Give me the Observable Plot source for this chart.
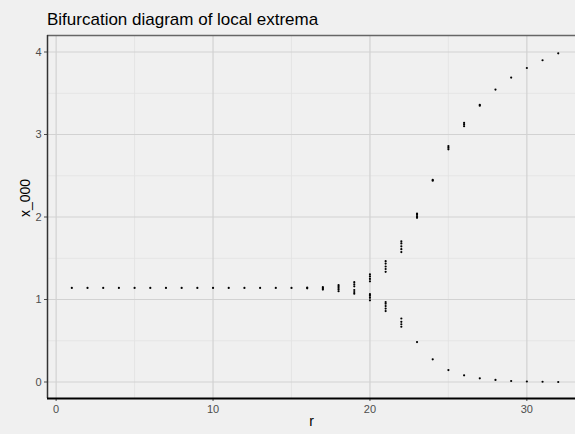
<!DOCTYPE html>
<html><head><meta charset="utf-8">
<script src="https://cdn.jsdelivr.net/npm/d3@7"></script>
<script src="https://cdn.jsdelivr.net/npm/@observablehq/plot@0.6"></script>
<style>
html,body{margin:0;padding:0;background:#f0f0f0;}
#title{height:30px;box-sizing:border-box;padding:11px 0 0 47px;font-family:"Liberation Sans",Arial,sans-serif;font-size:17px;line-height:17px;color:#000;white-space:nowrap;}
#chart svg{display:block;}
</style></head><body>
<div id="title">Bifurcation diagram of local extrema</div>
<div id="chart"></div>
<script>
// r value of each local extremum
const rValues = [
  1,2,3,4,5,6,7,8,9,10,11,12,13,14,15,
  16,16,
  17,17,17,
  18,18,18,18,18,
  19,19,19,19,19,19,
  20,20,20,20,20,20,20,20,
  21,21,21,21,21,21,21,21,21,21,
  22,22,22,22,22,22,22,22,22,
  23,23,23,23,23,
  24,24,24,
  25,25,25,25,
  26,26,26,26,
  27,27,27,
  28,28,
  29,29,
  30,30,
  31,31,
  32,32
];
// x_000 value of each local extremum
const x000Values = [
  1.14,1.14,1.14,1.14,1.14,1.14,1.14,1.14,1.14,1.14,1.14,1.14,1.14,1.14,1.14,
  1.135,1.145,
  1.12,1.135,1.15,
  1.10,1.12,1.14,1.16,1.175,
  1.07,1.09,1.115,1.16,1.185,1.21,
  0.99,1.02,1.045,1.065,1.22,1.25,1.28,1.305,
  0.86,0.89,0.92,0.95,0.97,1.335,1.37,1.40,1.435,1.465,
  0.67,0.70,0.73,0.77,1.575,1.61,1.645,1.68,1.705,
  0.484,1.99,2.01,2.03,2.04,
  0.275,2.44,2.45,
  0.145,2.82,2.84,2.86,
  0.081,3.10,3.12,3.14,
  0.045,3.35,3.36,
  0.025,3.545,
  0.012,3.69,
  0.006,3.806,
  0.003,3.90,
  0.0,3.984
];
const title = "Bifurcation diagram of local extrema";
const xLabel = "r";
const yLabel = "x_000";
const xMajor = [0,10,20,30];
const xMinor = [5,15,25];
const yMajor = [0,1,2,3,4];
const yMinor = [0.5,1.5,2.5,3.5];
const xDomain = [-0.55,33.1];
const yDomain = [-0.2,4.2];

const points = rValues.map((r,i) => ({r, v: x000Values[i]}));

const chart = Plot.plot({
  width: 575,
  height: 404,
  marginLeft: 47,
  marginRight: 0,
  marginTop: 5,
  marginBottom: 36,
  style: {background: "transparent", fontFamily: "'Liberation Sans', Arial, sans-serif", fontSize: "11px", color: "#4d4d4d", overflow: "visible"},
  x: {domain: xDomain, ticks: xMajor, tickSize: 3, tickPadding: 4, tickFormat: d3.format("d"), label: null},
  y: {domain: yDomain, ticks: yMajor, tickSize: 3, tickPadding: 3, tickFormat: d3.format("d"), label: null},
  marks: [
    Plot.ruleX(xMinor, {stroke: "#e2e2e2", strokeWidth: 0.8}),
    Plot.ruleY(yMinor, {stroke: "#e2e2e2", strokeWidth: 0.8}),
    Plot.ruleX(xMajor, {stroke: "#d2d2d2", strokeWidth: 1.2}),
    Plot.ruleY(yMajor, {stroke: "#d2d2d2", strokeWidth: 1.2}),
    Plot.ruleY([yDomain[1]], {stroke: "#666", strokeWidth: 1.5}),
    Plot.ruleX([xDomain[0]], {stroke: "#333", strokeWidth: 1.5}),
    Plot.ruleY([yDomain[0]], {stroke: "#000", strokeWidth: 2}),
    Plot.dot(points, {x: "r", y: "v", r: 1.1, fill: "#000"}),
    Plot.text([yLabel], {text: d => d, frameAnchor: "left", dx: -22, rotate: -90, fontSize: 14, fill: "#000"}),
    Plot.text([xLabel], {text: d => d, frameAnchor: "bottom", dy: 27, fontSize: 14, fill: "#000"})
  ]
});
document.getElementById("chart").appendChild(chart);
document.getElementById("title").textContent = title;
</script>
</body></html>
